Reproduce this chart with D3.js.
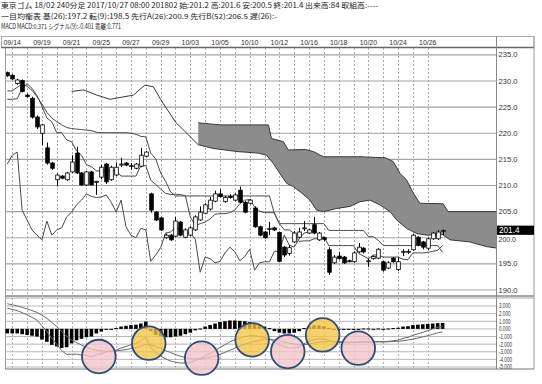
<!DOCTYPE html>
<html><head><meta charset="utf-8">
<script src="https://cdn.jsdelivr.net/npm/d3@7"></script>
<style>
html,body{margin:0;padding:0;background:#fff;}
svg{display:block;}
</style></head><body>
<svg id="c" width="542" height="384"></svg>
<script>
// ---------------- DATA ----------------
const headerLines = [
  "東京ゴム 18/02 240分足 2017/10/27 08:00 201802 始:201.2 高:201.6 安:200.5 終:201.4 出来高:84 取組高:----",
  "一目均衡表 基(26):197.2 転(9):198.5 先行A(26):200.9 先行B(52):206.5 遅(26):-",
  "MACD MACD:0.371 シグナル(9):-0.401 乖離:0.771"
];
const tradingDays = ["09/14","09/15","09/19","09/20","09/21","09/22","09/25","09/26","09/27","09/28",
  "09/29","10/02","10/03","10/04","10/05","10/06","10/10","10/11","10/12","10/13",
  "10/16","10/17","10/18","10/19","10/20","10/23","10/24","10/25","10/26","10/27"];
const opens = [231.6,231.1,229.5,230.1,227.3,226.7,223.1,220.0,217.2,214.3,
  211.1,211.8,211.1,212.6,216.2,212.4,210.1,212.6,210.6,211.6,
  214.1,211.1,212.0,214.0,214.3,213.7,213.3,213.7,215.6,208.4,
  204.9,203.8,200.0,200.5,200.3,203.0,200.1,200.5,201.5,203.4,
  204.7,205.5,207.0,208.4,206.9,207.9,207.2,209.1,206.8,206.6,
  205.7,202.1,201.1,201.6,201.9,201.0,198.2,197.0,199.2,200.1,
  201.8,200.9,202.5,199.6,200.0,197.7,195.2,196.5,196.3,195.6,
  195.4,197.3,198.0,195.5,196.0,196.1,195.4,194.2,196.1,193.9,
  197.3,197.4,197.7,200.1,199.2,198.0,199.8,199.8,201.2];
const highs = [231.8,231.3,230.4,230.3,227.6,227.0,223.4,221.8,218.2,214.5,
  212.3,212.0,212.6,215.8,217.4,212.6,212.8,212.8,210.9,213.9,
  214.3,213.8,214.4,215.3,214.5,214.3,214.3,217.2,216.6,208.6,
  205.1,204.0,200.8,200.7,204.0,203.2,201.8,202.2,204.3,206.0,
  206.6,207.8,209.0,209.3,208.0,208.3,208.5,209.8,207.0,207.4,
  206.0,202.3,201.3,203.0,202.1,201.2,198.4,198.6,201.3,201.9,
  203.2,201.7,204.0,201.1,200.1,198.2,196.7,197.3,196.5,195.8,
  197.4,199.0,198.2,196.0,196.6,198.0,195.6,195.5,196.3,196.2,
  197.8,197.8,200.7,200.3,199.4,200.0,201.1,201.5,201.6];
const lows = [230.8,230.2,229.3,227.8,226.8,222.8,220.8,217.7,214.0,213.0,
  209.8,211.2,210.9,212.4,212.2,210.0,209.9,210.0,208.2,211.2,
  210.3,210.9,211.8,213.5,213.7,213.0,213.1,213.5,215.4,204.8,
  203.2,201.3,199.8,199.4,200.1,200.3,199.9,200.3,201.3,203.2,
  204.5,205.2,206.8,207.7,206.7,207.5,207.0,206.6,204.7,206.4,
  201.9,200.3,199.8,200.5,201.3,195.3,196.3,196.6,199.0,199.9,
  201.3,200.7,200.7,199.4,199.4,192.9,195.0,195.8,195.0,195.3,
  195.2,197.1,197.0,194.4,195.8,195.9,193.5,194.0,195.2,193.6,
  196.5,196.9,197.5,198.4,197.8,197.6,199.6,199.6,200.5];
const closes = [231.0,230.4,230.2,228.0,227.0,223.1,221.2,221.6,214.3,213.3,
  212.0,211.4,212.4,214.5,212.4,210.1,212.6,210.1,210.8,213.5,
  210.7,213.5,213.5,214.1,213.9,213.8,214.1,215.8,216.4,205.3,
  203.4,201.5,200.5,199.6,203.2,200.5,201.5,201.9,204.0,204.9,
  206.3,207.2,208.4,207.9,207.7,207.8,208.2,206.8,204.9,207.2,
  202.1,200.5,200.0,201.8,201.5,195.5,196.7,198.1,200.9,201.1,
  201.9,201.5,200.9,200.9,199.7,193.4,196.3,196.0,195.2,195.5,
  197.1,198.2,197.3,195.6,196.4,197.8,193.8,195.2,195.4,195.4,
  197.4,197.4,200.5,198.6,198.2,199.8,200.9,201.1,201.4];
const tenkan = [226.5,226.5,226.6,228.6,229.5,228.6,227.2,225.2,222.9,222.2,
  220.1,220.1,218.7,218.4,216.6,215.8,214.0,213.6,212.8,212.8,
  212.8,212.8,212.8,211.8,211.8,211.8,211.8,213.8,213.8,211.0,
  210.2,209.3,208.5,208.3,208.3,208.3,208.0,204.0,202.3,202.7,
  203.0,203.6,204.5,204.6,204.6,204.8,205.3,206.5,207.2,207.3,
  205.9,205.1,204.8,204.8,204.8,202.7,201.5,201.5,200.8,199.3,
  199.4,199.4,199.8,199.8,200.2,198.5,198.5,198.5,198.5,198.5,
  198.5,197.0,196.5,196.0,196.7,196.7,196.3,196.3,196.3,196.3,
  195.9,195.8,197.1,197.1,197.1,197.2,197.4,197.6,198.5];
const kijun = [228.1,228.1,228.8,229.4,229.0,228.2,227.0,225.6,224.0,222.9,
  222.2,221.6,221.1,220.9,220.8,220.7,220.6,220.5,220.2,220.1,
  220.1,220.1,220.1,220.1,220.1,220.0,219.8,219.4,219.3,216.2,
  215.1,212.4,210.8,208.8,208.0,208.0,208.0,208.0,208.0,208.0,
  208.0,208.0,208.0,208.0,208.0,208.0,208.0,208.0,208.0,208.0,
  208.0,208.0,208.0,208.0,204.6,202.7,202.7,202.7,202.7,202.7,
  202.7,202.7,202.7,202.7,202.7,201.4,201.4,201.4,201.4,201.4,
  201.4,201.4,201.4,200.2,200.2,199.5,198.5,198.5,198.5,198.5,
  198.5,198.5,198.5,198.5,198.5,198.5,198.5,198.5,197.2];
// leading spans, read as [bar position, price]
const senkouA = [[13.0,228.0],[15.4,228.3],[18.1,227.3],[20.8,226.5],[25.5,227.3],[27.8,229.2],
  [29.5,228.9],[31.5,225.7],[34.2,221.9],[34.9,221.3],[38.6,217.8],[41.6,217.1],[46.4,216.5],
  [50.7,216.2],[52.4,215.8],[53.8,214.2],[55.1,212.3],[56.5,210.4],[57.8,209.8],[59.2,208.8],
  [61.2,207.2],[62.5,205.3],[63.9,205.0],[66.6,205.6],[69.3,206.0],[71.3,206.9],[73.3,207.2],
  [75.3,206.3],[77.4,205.0],[78.7,203.4],[80.7,201.8],[82.8,200.8],[84.8,200.5],[88.0,200.6],
  [89.5,199.6],[93.5,199.2],[96.9,198.3],[100.5,197.8]];
const senkouB = [[38.6,222.0],[43.0,221.6],[52.8,221.6],[53.4,219.0],[55.8,218.4],[56.8,216.8],
  [60.2,216.9],[61.9,216.5],[63.9,215.5],[71.3,215.5],[76.4,215.3],[78.0,214.6],[79.4,212.3],
  [80.7,211.1],[82.1,208.5],[83.4,206.6],[88.1,206.5],[89.1,205.0],[100.5,205.0]];
const macdHist = [-0.6,-0.6,-0.6,-0.7,-0.8,-0.9,-1.0,-1.4,-1.7,-2.1,
  -2.3,-2.5,-2.4,-1.9,-1.5,-1.3,-1.1,-1.0,-0.6,-0.35,
  -0.1,0.0,0.1,0.3,0.4,0.5,0.55,0.7,0.95,-0.3,
  -0.8,-1.0,-1.1,-1.1,-1.0,-0.9,-0.7,-0.5,-0.2,0.05,
  0.3,0.5,0.7,0.9,1.0,1.1,1.1,1.05,1.0,0.9,
  0.7,0.5,0.3,0.1,-0.3,-0.5,-0.6,-0.6,-0.5,-0.3,
  0.1,0.35,0.45,0.45,0.35,0.1,-0.05,-0.1,-0.1,-0.1,
  -0.05,0.0,0.05,0.05,0.0,0.05,0.0,0.05,0.1,0.15,
  0.3,0.35,0.5,0.55,0.6,0.65,0.7,0.75,0.77];
const signalLine = [3.30,3.15,3.00,2.83,2.63,2.40,2.15,1.80,1.38,0.85,
  0.28,-0.35,-0.95,-1.43,-1.80,-2.13,-2.40,-2.65,-2.80,-2.89,
  -2.91,-2.91,-2.89,-2.81,-2.71,-2.59,-2.45,-2.28,-2.04,-2.11,
  -2.31,-2.56,-2.84,-3.11,-3.36,-3.59,-3.76,-3.89,-3.94,-3.93,
  -3.85,-3.73,-3.55,-3.33,-3.08,-2.80,-2.53,-2.26,-2.01,-1.79,
  -1.61,-1.49,-1.41,-1.39,-1.46,-1.59,-1.74,-1.89,-2.01,-2.09,
  -2.06,-1.98,-1.86,-1.75,-1.66,-1.64,-1.65,-1.68,-1.70,-1.73,
  -1.74,-1.74,-1.73,-1.71,-1.71,-1.70,-1.70,-1.69,-1.66,-1.63,
  -1.55,-1.46,-1.34,-1.20,-1.05,-0.89,-0.71,-0.53,-0.40];
const macdLine = [2.70,2.55,2.40,2.13,1.83,1.50,1.15,0.40,-0.32,-1.25,
  -2.02,-2.85,-3.35,-3.33,-3.30,-3.43,-3.50,-3.65,-3.40,-3.24,
  -3.01,-2.91,-2.79,-2.51,-2.31,-2.09,-1.90,-1.58,-1.09,-2.41,
  -3.11,-3.56,-3.94,-4.21,-4.36,-4.49,-4.46,-4.39,-4.14,-3.88,
  -3.55,-3.23,-2.85,-2.43,-2.08,-1.70,-1.43,-1.21,-1.01,-0.89,
  -0.91,-0.99,-1.11,-1.29,-1.76,-2.09,-2.34,-2.49,-2.51,-2.39,
  -1.96,-1.63,-1.41,-1.30,-1.31,-1.54,-1.70,-1.78,-1.80,-1.83,
  -1.79,-1.74,-1.68,-1.66,-1.71,-1.65,-1.70,-1.64,-1.56,-1.48,
  -1.25,-1.11,-0.84,-0.65,-0.45,-0.24,-0.01,0.22,0.37];
const priceTicks = [190,195,200,205,210,215,220,225,230,235];
const macdTicks = [3,2,1,0,-1,-2,-3,-4,-5];
const lastPrice = 201.4;
const chikouShift = 26;
// annotation circles on MACD panel: [bar position, MACD value, kind]
const marks = [[18.5,-3.63,"low"],[28.6,-1.87,"high"],[39.3,-3.84,"low"],[49.5,-1.44,"high"],
  [56.7,-2.98,"low"],[63.75,-0.79,"high"],[70.95,-2.53,"low"]];

// ---------------- LAYOUT ----------------
const svg = d3.select('#c');
const plotL = 5, plotR = 496, axisR = 534;
const mainT = 48, mainB = 296, macdT = 298, macdB = 369;
const x = d3.scaleLinear().domain([0, 88]).range([7.3, 442.6]);
const y = d3.scaleLinear().domain([190, 230]).range([290, 81]);
const ym = d3.scaleLinear().domain([-5, 3]).range([367, 306]);
const cjk = '"Noto Sans CJK JP","Noto Sans",sans-serif';
const num = '"Liberation Sans",Arial,sans-serif';

const defs = svg.append('defs');
defs.append('clipPath').attr('id','cm').append('rect')
  .attr('x',plotL).attr('y',mainT).attr('width',plotR-plotL).attr('height',mainB-mainT);
defs.append('clipPath').attr('id','cd').append('rect')
  .attr('x',plotL).attr('y',macdT).attr('width',plotR-plotL).attr('height',macdB-macdT);
defs.append('clipPath').attr('id','cdAll').append('rect')
  .attr('x',0).attr('y',macdT).attr('width',axisR).attr('height',macdB-macdT);

// header
const hw = [377, 276, 120];
headerLines.forEach((t,i)=>{
  svg.append('text').attr('x',1).attr('y',8+i*10.5)
    .attr('font-family',cjk).attr('font-size',7).attr('fill','#222')
    .attr('textLength',hw[i]).attr('lengthAdjust','spacingAndGlyphs').text(t);
});

// x label bar
svg.append('rect').attr('x',1.5).attr('y',36.5).attr('width',axisR-1.5).attr('height',11)
  .attr('fill','#fff').attr('stroke','#aaa').attr('stroke-width',1);
svg.append('line').attr('x1',1.5).attr('x2',axisR).attr('y1',47.5).attr('y2',47.5)
  .attr('stroke','#666').attr('stroke-width',1.5);
svg.append('line').attr('x1',plotR+0.5).attr('x2',plotR+0.5).attr('y1',36.5).attr('y2',47.5)
  .attr('stroke','#888');
const dayBar = k => 1 + 3*k;
tradingDays.forEach((d,k)=>{
  if (k%2===0 && k<29) {
    svg.append('text').attr('x',x(dayBar(k))).attr('y',44.8).attr('text-anchor','middle')
      .attr('font-family',num).attr('font-size',7).attr('fill','#333').text(d);
  }
});

// main panel grid
const gMain = svg.append('g');
priceTicks.forEach(p=>{
  gMain.append('line').attr('x1',plotL).attr('x2',plotR).attr('y1',y(p)).attr('y2',y(p))
    .attr('stroke','#a3a3a3').attr('stroke-width',1.2);
  if (p !== 200) {
    svg.append('text').attr('x',498.5).attr('y',y(p)+2.6)
      .attr('font-family',num).attr('font-size',7.6).attr('fill','#333').text(p.toFixed(1));
  }
});
tradingDays.forEach((d,k)=>{
  if (k<29) {
    const xx = Math.round(x(dayBar(k)))+0.5;
    gMain.append('line').attr('x1',xx).attr('x2',xx).attr('y1',mainT).attr('y2',mainB)
      .attr('stroke','#a8a8a8').attr('stroke-dasharray','2,2');
    svg.append('line').attr('x1',xx).attr('x2',xx).attr('y1',macdT).attr('y2',macdB)
      .attr('stroke','#b0b0b0').attr('stroke-dasharray','2,2');
  }
});

// cloud
const gC = svg.append('g').attr('clip-path','url(#cm)');
const startB = senkouB[0][0];
const poly = senkouB.concat(senkouA.filter(d=>d[0]>=startB).slice().reverse());
gC.append('path').attr('d', d3.line().x(d=>x(d[0])).y(d=>y(d[1]))(poly)+'Z')
  .attr('fill','#8c8c8c').attr('stroke','none');
const lineXY = d3.line().x(d=>x(d[0])).y(d=>y(d[1]));
gC.append('path').attr('d',lineXY(senkouB)).attr('fill','none').attr('stroke','#3a3a3a').attr('stroke-width',1);
gC.append('path').attr('d',lineXY(senkouA)).attr('fill','none').attr('stroke','#3a3a3a').attr('stroke-width',1);

// tenkan, kijun, chikou
const lineIdx = d3.line().x((d,i)=>x(i)).y(d=>y(d));
gC.append('path').attr('d',lineIdx(tenkan)).attr('fill','none').attr('stroke','#4a4a4a').attr('stroke-width',1);
gC.append('path').attr('d',lineIdx(kijun)).attr('fill','none').attr('stroke','#4a4a4a').attr('stroke-width',1);
const chikou = closes.map((c,i)=>[i-chikouShift,c]).filter(d=>d[0]>=0);
gC.append('path').attr('d',lineXY(chikou)).attr('fill','none').attr('stroke','#4a4a4a').attr('stroke-width',1);

// candles
closes.forEach((c,i)=>{
  const o = opens[i], xx = Math.round(x(i))+0.5;
  gC.append('line').attr('x1',xx).attr('x2',xx).attr('y1',y(highs[i])).attr('y2',y(lows[i]))
    .attr('stroke','#000').attr('stroke-width',1);
  const top = Math.min(y(o),y(c)), h = Math.max(1,Math.abs(y(o)-y(c)));
  gC.append('rect').attr('x',xx-1.8).attr('y',top).attr('width',3.6).attr('height',h)
    .attr('fill', c>=o ? '#fff' : '#000').attr('stroke','#000').attr('stroke-width',0.8);
});

// panel frames
svg.append('line').attr('x1',plotL+0.5).attr('x2',plotL+0.5).attr('y1',mainT).attr('y2',macdB).attr('stroke','#999');
svg.append('line').attr('x1',plotR+0.5).attr('x2',plotR+0.5).attr('y1',mainT).attr('y2',macdB).attr('stroke','#888');
svg.append('line').attr('x1',axisR).attr('x2',axisR).attr('y1',36.5).attr('y2',macdB).attr('stroke','#999');
svg.append('line').attr('x1',plotL).attr('x2',axisR).attr('y1',mainB).attr('y2',mainB).attr('stroke','#888').attr('stroke-width',1.5);
svg.append('line').attr('x1',plotL).attr('x2',axisR).attr('y1',macdT).attr('y2',macdT).attr('stroke','#aaa');

// 200.0 label placed just under the last-price box (as in the reference)
svg.append('text').attr('x',498.5).attr('y',y(200)+4.2)
  .attr('font-family',num).attr('font-size',7).attr('fill','#333').text((200).toFixed(1));
// last price box
svg.append('rect').attr('x',497).attr('y',y(lastPrice)-4.8).attr('width',37).attr('height',9.2).attr('fill','#000');
svg.append('text').attr('x',499).attr('y',y(lastPrice)+2.9).attr('font-family',num).attr('font-size',8.2)
  .attr('fill','#fff').text(lastPrice.toFixed(1));

// MACD panel
const gM = svg.append('g').attr('clip-path','url(#cd)');
macdTicks.forEach(v=>{
  gM.append('line').attr('x1',plotL).attr('x2',plotR).attr('y1',ym(v)).attr('y2',ym(v))
    .attr('stroke','#b8b8b8').attr('stroke-width',1);
});
const gLab = svg.append('g').attr('clip-path','url(#cdAll)');
macdTicks.forEach(v=>{
  gLab.append('text').attr('x',499).attr('y',ym(v)+2.4).attr('font-family',num).attr('font-size',6.6)
    .attr('fill','#333').attr('textLength', v<0 ? 13 : 11.5).attr('lengthAdjust','spacingAndGlyphs')
    .text(v.toFixed(3));
});
macdHist.forEach((v,i)=>{
  const y0 = ym(0), y1 = ym(v);
  const top = Math.min(y0,y1), h = Math.max(1, Math.abs(y1-y0));
  gM.append('rect').attr('x',x(i)-1.8).attr('y',top).attr('width',3.6).attr('height',h).attr('fill','#000');
});
const lineM = d3.line().x((d,i)=>x(i)).y(d=>ym(d));
gM.append('path').attr('d',lineM(macdLine)).attr('fill','none').attr('stroke','#6a6a6a').attr('stroke-width',1);
gM.append('path').attr('d',lineM(signalLine)).attr('fill','none').attr('stroke','#6a6a6a').attr('stroke-width',1);
svg.append('line').attr('x1',plotL).attr('x2',axisR).attr('y1',macdB).attr('y2',macdB).attr('stroke','#777').attr('stroke-width',1.2);

// annotation circles
marks.forEach(m=>{
  svg.append('circle').attr('cx',x(m[0])).attr('cy',ym(m[1])).attr('r',16.8)
    .attr('fill', m[2]==='low' ? '#f4c4c6' : '#f5c445').attr('fill-opacity',0.78)
    .attr('stroke','#2f4b7c').attr('stroke-width',1.8);
});
</script>
</body></html>
